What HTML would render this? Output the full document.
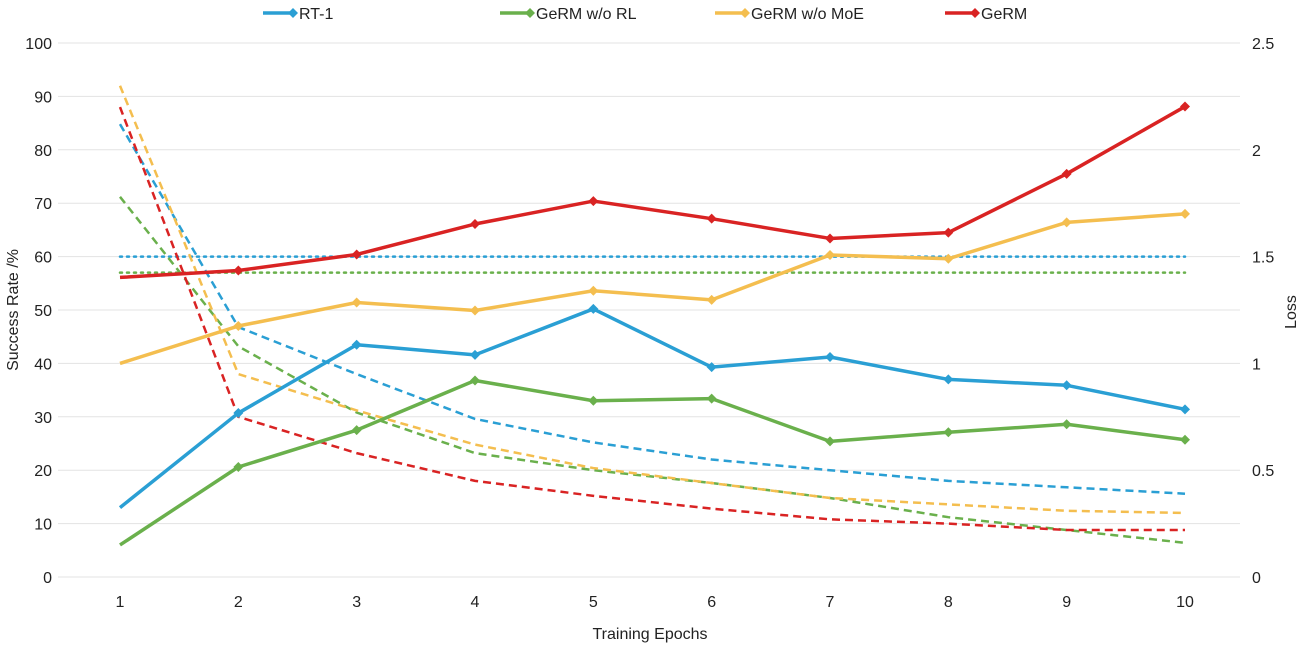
<!DOCTYPE html>
<html><head><meta charset="utf-8"><style>
body{margin:0;background:#fff;}
svg text{font-family:"Liberation Sans",Arial,sans-serif;fill:#222;}
</style></head><body>
<svg id="chart" width="1301" height="647" xmlns="http://www.w3.org/2000/svg"></svg>
<script>
const epochs=[1,2,3,4,5,6,7,8,9,10];
const yTicks=[0,10,20,30,40,50,60,70,80,90,100];
const y2Ticks=["0","0.5","1","1.5","2","2.5"];
const seriesNames=["RT-1","GeRM w/o RL","GeRM w/o MoE","GeRM"];
const rt1=[13,30.7,43.5,41.6,50.2,39.3,41.2,37,35.9,31.4];
const noRL=[6,20.6,27.5,36.8,33,33.4,25.4,27.1,28.6,25.7];
const noMoE=[40,47,51.4,49.9,53.6,51.9,60.3,59.6,66.4,68];
const germ=[56.1,57.4,60.4,66.1,70.4,67.1,63.4,64.5,75.5,88.1];
const rt1Loss=[2.12,1.17,0.95,0.74,0.63,0.55,0.5,0.45,0.42,0.39];
const noRLLoss=[1.78,1.08,0.77,0.58,0.5,0.44,0.37,0.28,0.22,0.16];
const noMoELoss=[2.3,0.95,0.78,0.62,0.51,0.44,0.37,0.34,0.31,0.3];
const germLoss=[2.2,0.75,0.58,0.45,0.38,0.32,0.27,0.25,0.22,0.22];
const baselineRT1=60;
const baselineNoRL=57;

const svg=document.getElementById('chart');
const NS="http://www.w3.org/2000/svg";
const X0=120,X1=1185,Y0=577,Y1=43;
const xs=e=>X0+(e-1)*(X1-X0)/9;
const ys=v=>Y0-v*(Y0-Y1)/100;
const ys2=v=>Y0-v*(Y0-Y1)/2.5;
const colors=["#2a9fd4","#6ab04c","#f4be4f","#d92323"];
function mk(tag,attrs){const el=document.createElementNS(NS,tag);for(const k in attrs)el.setAttribute(k,attrs[k]);svg.appendChild(el);return el;}

yTicks.forEach(t=>{
  const g=mk('line',{x1:58,x2:1240,y1:ys(t),y2:ys(t),stroke:'#e3e3e3','stroke-width':1});
  
  
  const tx=mk('text',{x:52,y:ys(t)+6,'text-anchor':'end','font-size':16});
  tx.textContent=t;
  
  
});
y2Ticks.forEach(t=>{
  const tx=mk('text',{x:1252,y:ys2(parseFloat(t))+6,'text-anchor':'start','font-size':16});
  tx.textContent=t;
  
  
});
epochs.forEach(e=>{
  const tx=mk('text',{x:xs(e),y:607,'text-anchor':'middle','font-size':16});
  tx.textContent=e;
  
  
});
let t=mk('text',{x:650,y:639,'text-anchor':'middle','font-size':16});t.textContent="Training Epochs";


t=mk('text',{x:0,y:0,'text-anchor':'middle','font-size':16,transform:'translate(18,310) rotate(-90)'});t.textContent="Success Rate /%";


t=mk('text',{x:0,y:0,'text-anchor':'middle','font-size':16,transform:'translate(1296,312) rotate(-90)'});t.textContent="Loss";



// baselines
[[baselineRT1,colors[0]],[baselineNoRL,colors[1]]].forEach(([v,c])=>{
  const l=mk('line',{x1:xs(1),x2:xs(10),y1:ys(v),y2:ys(v),stroke:c,'stroke-width':2.5,'stroke-dasharray':'2 5','stroke-linecap':'round'});
  
  
});
// loss dashed
[rt1Loss,noRLLoss,noMoELoss,germLoss].forEach((d,i)=>{
  const p=mk('polyline',{points:d.map((v,j)=>xs(epochs[j])+','+ys2(v)).join(' '),fill:'none',stroke:colors[i],'stroke-width':2.5,'stroke-dasharray':'8 5'});
  
  
});
// success lines
[rt1,noRL,noMoE,germ].forEach((d,i)=>{
  const p=mk('polyline',{points:d.map((v,j)=>xs(epochs[j])+','+ys(v)).join(' '),fill:'none',stroke:colors[i],'stroke-width':3.5,'stroke-linejoin':'round'});
  
  
  d.forEach((v,j)=>{if(j===0)return;const x=xs(epochs[j]),y=ys(v);
    const m=mk('polygon',{points:`${x},${y-5} ${x+5},${y} ${x},${y+5} ${x-5},${y}`,fill:colors[i]});
    
    
  });
});
// legend
const lx=[263,500,715,945];
seriesNames.forEach((n,i)=>{
  const x=lx[i];
  const l=mk('line',{x1:x,x2:x+30,y1:13,y2:13,stroke:colors[i],'stroke-width':3.5});
  
  
  const m=mk('polygon',{points:`${x+30},8 ${x+35},13 ${x+30},18 ${x+25},13`,fill:colors[i]});
  
  
  const tx=mk('text',{x:x+36,y:19,'font-size':16});tx.textContent=n;
  
  
});
</script>
</body></html>
